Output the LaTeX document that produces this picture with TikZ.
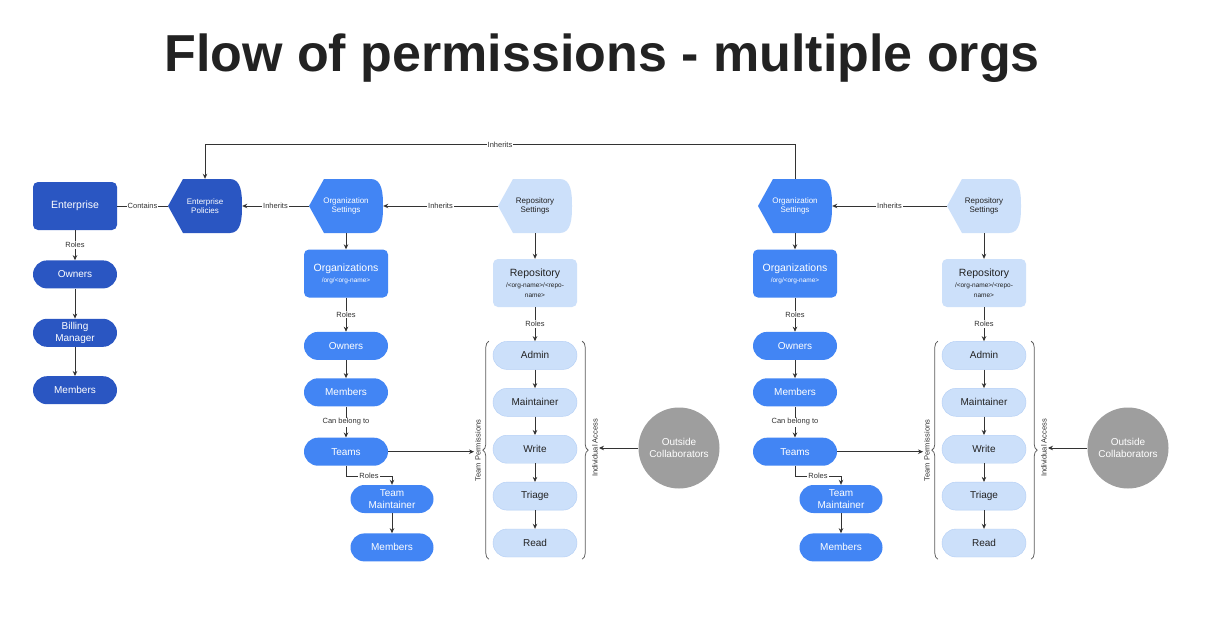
\documentclass[tikz,border=0pt]{standalone}
\usepackage{fontspec}
\setmainfont{Liberation Sans}
\usetikzlibrary{arrows.meta,positioning,decorations.pathreplacing}
\definecolor{entBlue}{HTML}{2A56C2}
\definecolor{orgBlue}{HTML}{4285F4}
\definecolor{repoBlue}{HTML}{CCE0FA}
\definecolor{repoEdge}{HTML}{B3CEF5}
\definecolor{ocGray}{HTML}{9E9E9E}
\definecolor{lineGray}{HTML}{333333}
\definecolor{titleGray}{HTML}{222222}
\newcommand{\fTitle}{\fontsize{52}{60}\selectfont\bfseries}
\newcommand{\fBox}{\fontsize{10.5}{12}\selectfont}
\newcommand{\fPill}{\fontsize{10}{11.5}\selectfont}
\newcommand{\fSet}{\fontsize{8}{9.5}\selectfont}
\newcommand{\fPath}{\fontsize{6.5}{7.5}\selectfont}
\newcommand{\fLbl}{\fontsize{7.5}{9}\selectfont}

\begin{document}
\begin{tikzpicture}[x=1pt, y=-1pt,
    box/.style={rounded corners=5pt, minimum width=84pt, minimum height=48pt,
                align=center, font=\fBox, inner sep=1pt},
    pill/.style={rounded corners=14pt, minimum width=84pt, minimum height=28pt,
                 align=center, font=\fPill, inner sep=1pt},
    entpill/.style={pill, fill=entBlue, text=white},
    orgpill/.style={pill, fill=orgBlue, text=white},
    repopill/.style={pill, fill=repoBlue, draw=repoEdge, text=titleGray},
    settings/.style={minimum width=74pt, minimum height=54pt, inner sep=1pt,
                     align=center, font=\fSet,
                     path picture={\fill[#1] (path picture bounding box.west)
                       -- ([xshift=15pt]path picture bounding box.north west)
                       -- ([xshift=-12pt]path picture bounding box.north east)
                       to[out=0,in=90] (path picture bounding box.east)
                       to[out=-90,in=0] ([xshift=-12pt]path picture bounding box.south east)
                       -- ([xshift=15pt]path picture bounding box.south west) -- cycle;}},
    lbl/.style={fill=white, inner sep=1pt, font=\fLbl, text=lineGray},
    arr/.style={-{Stealth[length=5pt,width=4.5pt]}, draw=lineGray, line width=0.75pt},
    ln/.style={draw=lineGray, line width=0.75pt},
    brace/.style={decorate, decoration={brace, amplitude=6pt}, draw=lineGray!80, line width=0.75pt},
    brlbl/.style={font=\fLbl, rotate=90, inner sep=1pt, text=lineGray}
  ]
  \fill[white] (0,0) rectangle (1220,640);
  \useasboundingbox (0,0) rectangle (1220,640);

  \node[font=\fTitle, text=titleGray, anchor=base] (title) at (602,71) {Flow of permissions - multiple orgs};

  \node[box, fill=entBlue, text=white] (ent) at (75,206) {Enterprise};
  \node[entpill, below=30pt of ent] (entown) {Owners};
  \node[entpill, below=30pt of entown] (billing) {Billing\\Manager};
  \node[entpill, below=29pt of billing] (entmem) {Members};
  \node[settings=entBlue, text=white] (ep) at (205,206) {Enterprise\\Policies};

  \draw[ln] (ent) -- (ep) node[lbl, midway] {Contains};
  \draw[arr] (ent) -- (entown) node[lbl, midway] {Roles};
  \draw[arr] (entown) -- (billing);
  \draw[arr] (billing) -- (entmem);

  \foreach \g/\dx in {1/0,2/449}{
    \begin{scope}[xshift=\dx pt]
      \node[settings=orgBlue, text=white] (os\g) at (346,206) {Organization\\Settings};
      \node[settings=repoBlue, text=titleGray] (rs\g) at (535,206) {Repository\\Settings};
      \node[box, fill=orgBlue, text=white] (org\g) at (346,273.5)
        {Organizations\\[-1pt]{\fPath /org/<org-name>}};
      \node[orgpill, below=34pt of org\g] (own\g) {Owners};
      \node[orgpill, below=18pt of own\g] (mem\g) {Members};
      \node[orgpill, below=31pt of mem\g] (team\g) {Teams};
      \node[orgpill, minimum width=83pt] (tmt\g) at (392,499) {Team\\Maintainer};
      \node[orgpill, minimum width=83pt, below=20pt of tmt\g] (tmem\g) {Members};

      \node[box, fill=repoBlue, text=titleGray] (repo\g) at (535,283)
        {Repository\\[-1pt]{\fPath /<org-name>/<repo-}\\[-2pt]{\fPath name>}};
      \node[repopill, below=34pt of repo\g] (admin\g) {Admin};
      \node[repopill, below=18.5pt of admin\g] (mnt\g) {Maintainer};
      \node[repopill, below=18.5pt of mnt\g] (write\g) {Write};
      \node[repopill, below=18.5pt of write\g] (triage\g) {Triage};
      \node[repopill, below=18.5pt of triage\g] (read\g) {Read};

      \node[brlbl] (tp\g) at (478,450.5) {Team Permissions};
      \node[brlbl] (ia\g) at (595,448) {Individual Access};
      \node[circle, fill=ocGray, text=white, minimum size=81pt, inner sep=0pt,
            align=center, font=\fPill] (oc\g) at (679,448) {Outside\\Collaborators};

      \draw[arr] (rs\g) -- (os\g) node[lbl, midway] {Inherits};
      \draw[arr] (os\g) -- (org\g);
      \draw[arr] (org\g) -- (own\g) node[lbl, midway] {Roles};
      \draw[arr] (own\g) -- (mem\g);
      \draw[arr] (mem\g) -- (team\g) node[lbl, midway] {Can belong to};
      \draw[arr] (team\g.south) -- ++(0,10) -| (tmt\g.north) node[lbl, pos=0.25] {Roles};
      \draw[arr] (tmt\g) -- (tmem\g);
      \draw[arr] (rs\g) -- (repo\g);
      \draw[arr] (repo\g) -- (admin\g) node[lbl, midway] {Roles};
      \draw[arr] (admin\g) -- (mnt\g);
      \draw[arr] (mnt\g) -- (write\g);
      \draw[arr] (write\g) -- (triage\g);
      \draw[arr] (triage\g) -- (read\g);
      \draw[brace] ([shift={(-4,2)}]read\g.south west) -- ([xshift=-4pt]admin\g.north west);
      \draw[brace] ([xshift=5pt]admin\g.north east) -- ([shift={(5,2)}]read\g.south east);
      \draw[arr] (team\g.east) -- (team\g.east -| tp\g.north);
      \draw[arr] (oc\g.west) -- (oc\g.west -| ia\g.south);
    \end{scope}
  }

  \draw[arr] (os1) -- (ep) node[lbl, midway] {Inherits};
  \draw[arr] (os2.north) -- ++(0,-34) -| (ep.north) node[lbl, pos=0.25] {Inherits};
\end{tikzpicture}
\end{document}
